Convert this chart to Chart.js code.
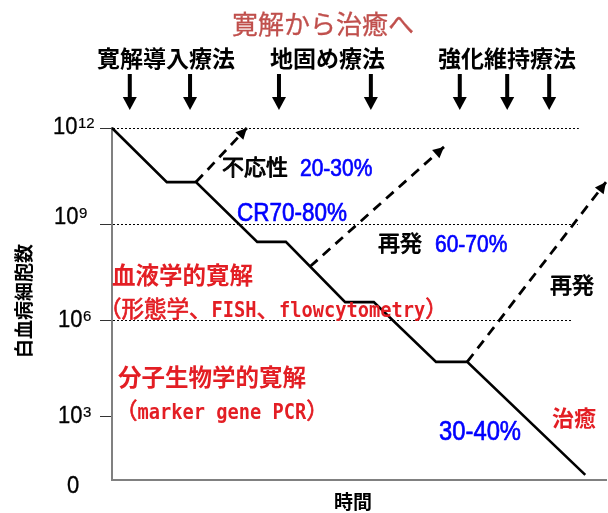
<!DOCTYPE html>
<html>
<head>
<meta charset="utf-8">
<script src="https://cdn.jsdelivr.net/npm/chart.js@4.4.1/dist/chart.umd.min.js"></script>
<style>
  html, body { margin: 0; padding: 0; background: #fff; }
  #wrap { width: 608px; height: 513px; position: relative; }
</style>
</head>
<body>
<div id="wrap"><canvas id="c" width="608" height="513"></canvas></div>
<script>
// Leukemic cell burden over time (x: time in arbitrary units, y: log10 of cell count)
const mainTime = [0, 11.1, 17.0, 29.4, 35.2, 47.2, 53.0, 65.6, 71.9, 95.8];
const mainLog  = [12, 10.31, 10.31, 8.44, 8.44, 6.56, 6.56, 4.69, 4.69, 1.16];

// Relapse / refractory branches (start on the main course, end with an arrowhead)
const relapseTime = [[17.0, 27.3], [40.1, 67.2], [71.9, 100]];
const relapseLog  = [[10.31, 12], [7.67, 11.41], [4.69, 10.31]];

// Treatment courses marked with down arrows (time units)
const courseTimes = [3.6, 15.8, 33.8, 52.4, 70.4, 80.0, 88.5];

// Y axis ticks (log10 of cells) and their labels
const tickExponents = [12, 9, 6, 3];
const tickBase = '10';
const tickSup = ['12', '9', '6', '3'];
const zeroLabel = '0';

// Texts
const chartTitle = '寛解から治癒へ';
const phaseLabels = ['寛解導入療法', '地固め療法', '強化維持療法'];
const yTitle = '白血病細胞数';
const xTitle = '時間';

const CJK = '"Noto Sans CJK JP"';
const LAT = '"Liberation Sans", Arial';
const MONO = '"DejaVu Sans Mono"';
const RED = '#e31e24';
const BLUE = '#0000ff';
const TITLE_RED = '#c0504d';

function latin(ctx, s, x, baseY, size, color, sy, stroke, align) {
  ctx.save();
  ctx.font = size + 'px ' + LAT;
  ctx.fillStyle = color;
  ctx.strokeStyle = color;
  ctx.textAlign = align || 'left';
  ctx.textBaseline = 'alphabetic';
  ctx.translate(x, baseY);
  ctx.scale(1, sy || 1);
  ctx.fillText(s, 0, 0);
  if (stroke) { ctx.lineWidth = stroke; ctx.lineJoin = 'round'; ctx.strokeText(s, 0, 0); }
  ctx.restore();
}
// Latin label positioned by the vertical centre of its capitals
function latinC(ctx, s, x, cy, size, color, sy, stroke) {
  const k = sy || 1;
  latin(ctx, s, x, cy + 0.716 * size * k / 2, size, color, k, stroke);
}
// CJK label positioned by vertical centre
function cjk(ctx, s, x, cy, size, color, bold, align, stroke) {
  ctx.save();
  ctx.font = (bold ? 'bold ' : '') + size + 'px ' + CJK;
  ctx.fillStyle = color;
  ctx.strokeStyle = color;
  ctx.textAlign = align || 'left';
  ctx.textBaseline = 'alphabetic';
  ctx.fillText(s, x, cy + 0.38 * size);
  if (stroke) { ctx.lineWidth = stroke; ctx.lineJoin = 'round'; ctx.strokeText(s, x, cy + 0.38 * size); }
  ctx.restore();
}
// Gothic style line: full-width CJK glyphs, half-width monospaced Latin
function gothic(ctx, s, x, cy, size, color) {
  const base = cy + 0.38 * size;
  const runs = s.match(/[\x20-\x7e]+|[^\x20-\x7e]+/g);
  let cx = x;
  ctx.save();
  ctx.fillStyle = color;
  ctx.strokeStyle = color;
  ctx.lineJoin = 'round';
  ctx.textBaseline = 'alphabetic';
  ctx.textAlign = 'left';
  for (const r of runs) {
    const ascii = /^[\x20-\x7e]/.test(r);
    if (ascii) {
      ctx.font = 'bold ' + (size * 0.5 / 0.602).toFixed(2) + 'px ' + MONO;
      ctx.save();
      ctx.translate(cx, base);
      ctx.scale(1, 1.18);
      ctx.fillText(r, 0, 0);
      ctx.restore();
    } else {
      ctx.font = size + 'px ' + CJK;
      ctx.fillText(r, cx, base);
      ctx.lineWidth = 0.7;
      ctx.strokeText(r, cx, base);
    }
    cx += ctx.measureText(r).width;
  }
  ctx.restore();
}

const decorations = {
  id: 'decorations',
  beforeDatasetsDraw(chart) {
    const { ctx, chartArea } = chart;
    const xs = chart.scales.x, ys = chart.scales.y;
    // dotted reference levels
    const guides = [[12, 94.5], [9, 94.3], [6, 93.1]];
    ctx.save();
    ctx.strokeStyle = '#000';
    ctx.lineWidth = 1;
    ctx.setLineDash([2, 2]);
    for (const [v, end] of guides) {
      const y = Math.round(ys.getPixelForValue(v)) + 0.5;
      ctx.beginPath();
      ctx.moveTo(chartArea.left + 1, y);
      ctx.lineTo(xs.getPixelForValue(end), y);
      ctx.stroke();
    }
    ctx.restore();
  },
  afterDatasetsDraw(chart) {
    const { ctx } = chart;
    // arrowheads on relapse branches
    chart.data.datasets.forEach((ds, i) => {
      if (!ds.arrow) return;
      const pts = chart.getDatasetMeta(i).data;
      const a = pts[pts.length - 2], b = pts[pts.length - 1];
      const ang = Math.atan2(b.y - a.y, b.x - a.x);
      const L = 11, W = 5.5;
      ctx.save();
      ctx.fillStyle = '#000';
      ctx.translate(b.x, b.y);
      ctx.rotate(ang);
      ctx.beginPath();
      ctx.moveTo(0, 0);
      ctx.lineTo(-L, -W);
      ctx.lineTo(-L, W);
      ctx.closePath();
      ctx.fill();
      ctx.restore();
    });
  },
  afterDraw(chart) {
    const { ctx } = chart;
    const xs = chart.scales.x, ys = chart.scales.y;

    // title
    cjk(ctx, chartTitle, 232, 24.5, 26, TITLE_RED, false, 'left', 0.3);

    // treatment phase labels
    cjk(ctx, phaseLabels[0], 97, 58, 23, '#000', true);
    cjk(ctx, phaseLabels[1], 270, 58, 23, '#000', true);
    cjk(ctx, phaseLabels[2], 438, 58, 23, '#000', true);

    // down arrows for each course
    ctx.save();
    ctx.fillStyle = '#000';
    for (const t of courseTimes) {
      const x = xs.getPixelForValue(t);
      ctx.fillRect(x - 2, 74, 4, 25);
      ctx.beginPath();
      ctx.moveTo(x - 7, 97);
      ctx.lineTo(x + 7, 97);
      ctx.lineTo(x, 110);
      ctx.closePath();
      ctx.fill();
    }
    ctx.restore();

    // y tick labels: 10 with superscript exponent
    const tickLayout = [[53, 6], [54, 0], [58, 7], [58, 7]];
    tickExponents.forEach((v, i) => {
      const y = ys.getPixelForValue(v);
      const [lx, dy] = tickLayout[i];
      const base = y + dy;
      latin(ctx, tickBase, lx, base, 22, '#000', 1.08, 0.3);
      ctx.save();
      ctx.font = '22px ' + LAT;
      const w = ctx.measureText(tickBase).width;
      ctx.restore();
      latin(ctx, tickSup[i], lx + w + 0.5, base - 6.5, 15, '#000', 1.0, 0.2);
    });
    latin(ctx, zeroLabel, 67, 493, 22, '#000', 1.08, 0.3);

    // axis titles
    ctx.save();
    ctx.translate(24, 301);
    ctx.rotate(-Math.PI / 2);
    cjk(ctx, yTitle, 0, 0, 19, '#000', true, 'center');
    ctx.restore();
    cjk(ctx, xTitle, 353, 502, 19, '#000', true, 'center');

    // response annotations
    cjk(ctx, '不応性', 222, 167, 22, '#000', false, 'left', 0.9);
    latinC(ctx, '20-30%', 300, 167, 21, BLUE, 1.15, 0.6);
    latinC(ctx, 'CR70-80%', 237, 212, 22.5, BLUE, 1.15, 0.6);
    cjk(ctx, '再発', 378, 243, 22, '#000', false, 'left', 0.9);
    latinC(ctx, '60-70%', 435, 243, 21, BLUE, 1.15, 0.6);
    cjk(ctx, '再発', 550, 285, 22, '#000', false, 'left', 0.9);
    cjk(ctx, '治癒', 552, 418, 22, RED, true);
    latinC(ctx, '30-40%', 439, 430, 23.8, BLUE, 1.15, 0.6);

    // remission depth
    cjk(ctx, '血液学的寛解', 112, 275, 23.5, RED, true);
    gothic(ctx, '（形態学、FISH、flowcytometry）', 99, 308, 22.5, RED);
    cjk(ctx, '分子生物学的寛解', 118, 377, 23.5, RED, true);
    gothic(ctx, '（marker gene PCR）', 115, 410, 22.5, RED);
  }
};

const toPts = (xs, ys) => xs.map((x, i) => ({ x, y: ys[i] }));

const datasets = [{
  data: toPts(mainTime, mainLog),
  borderColor: '#000',
  borderWidth: 2.6,
  showLine: true,
  pointRadius: 0,
  tension: 0,
  clip: false
}].concat(relapseTime.map((t, i) => ({
  data: toPts(t, relapseLog[i]),
  borderColor: '#000',
  borderWidth: 2.8,
  borderDash: [10, 7],
  showLine: true,
  pointRadius: 0,
  tension: 0,
  clip: false,
  arrow: true
})));

new Chart(document.getElementById('c'), {
  type: 'scatter',
  data: { datasets },
  options: {
    responsive: false,
    animation: false,
    devicePixelRatio: 1,
    layout: { padding: { left: 100, top: 128, right: 2, bottom: 33 } },
    plugins: { legend: { display: false }, tooltip: { enabled: false }, title: { display: false } },
    scales: {
      x: {
        type: 'linear', min: 0, max: 100,
        ticks: { display: false },
        grid: { display: false, drawTicks: false },
        border: { display: true, color: '#808080', width: 2 }
      },
      y: {
        type: 'linear', min: 1, max: 12,
        afterBuildTicks: (s) => { s.ticks = tickExponents.map(v => ({ value: v })); },
        ticks: { display: false },
        grid: { display: true, drawOnChartArea: false, drawTicks: true, tickLength: 12, color: '#333', lineWidth: 1 },
        border: { display: true, color: '#808080', width: 2 }
      }
    }
  },
  plugins: [decorations]
});
</script>
</body>
</html>
